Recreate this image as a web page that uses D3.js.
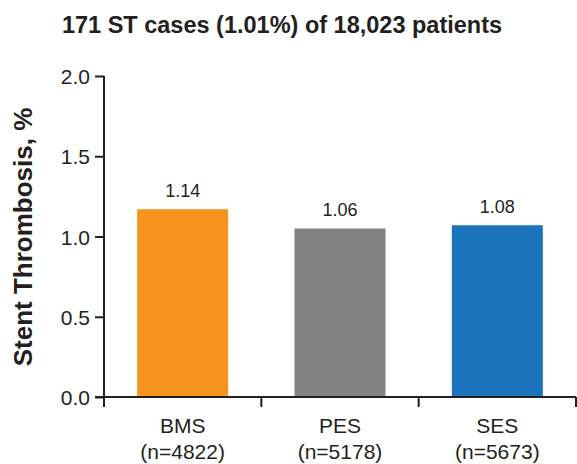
<!DOCTYPE html>
<html><head><meta charset="utf-8">
<script src="https://cdn.jsdelivr.net/npm/d3@7"></script>
<style>
body{margin:0;background:#fff;}
svg text{font-family:"Liberation Sans",Arial,sans-serif;fill:#231f20;}
</style></head>
<body>
<svg id="c" width="577" height="464"></svg>
<script>
const categories = ["BMS","PES","SES"];
const sampleSizes = ["(n=4822)","(n=5178)","(n=5673)"];
const barValues = [1.17, 1.05, 1.07];
const valueLabels = ["1.14","1.06","1.08"];
const colors = ["#F7941E","#838383","#1C75BC"];
const yTicks = [0.0,0.5,1.0,1.5,2.0];
const title = "171 ST cases (1.01%) of 18,023 patients";
const yTitle = "Stent Thrombosis, %";

const svg = d3.select("#c");
const m = {left:104, right:576, top:76, bottom:397};
const xb = d3.scaleBand().domain(categories).range([m.left, m.right]);
const y = d3.scaleLinear().domain([0,2]).range([m.bottom, m.top]);
const ink = "#231f20";

svg.append("text").attr("x",282).attr("y",33).attr("text-anchor","middle")
  .style("font-size","23.5px").style("font-weight","bold").text(title);

svg.selectAll("rect.bar").data(categories).join("rect").attr("class","bar")
  .attr("x", d=>xb(d)+xb.bandwidth()/2-45.5).attr("width",91)
  .attr("y",(d,i)=>y(barValues[i])).attr("height",(d,i)=>y(0)-y(barValues[i]))
  .attr("fill",(d,i)=>colors[i]);

svg.selectAll("text.val").data(categories).join("text").attr("class","val")
  .attr("x", d=>xb(d)+xb.bandwidth()/2).attr("y",(d,i)=>y(barValues[i])-12)
  .attr("text-anchor","middle").style("font-size","18px").text((d,i)=>valueLabels[i]);

// y axis
const ya = svg.append("g").attr("transform",`translate(${m.left},0)`)
  .call(d3.axisLeft(y).tickValues(yTicks).tickFormat(d3.format(".1f")).tickSizeOuter(0).tickSize(9).tickPadding(5));
ya.select(".domain").attr("stroke",ink).attr("stroke-width",2).attr("d",`M0,${m.top}V${m.bottom+9}`);
ya.selectAll(".tick line").attr("stroke",ink).attr("stroke-width",2);
ya.selectAll(".tick text").style("font-size","21px").attr("fill",ink).attr("dy","0.36em");

// x axis
const xa = svg.append("g").attr("transform",`translate(0,${m.bottom})`);
xa.append("line").attr("x1",m.left-9).attr("x2",m.right).attr("stroke",ink).attr("stroke-width",2);
const bounds = categories.map(d=>xb(d)).concat([m.right]);
xa.selectAll("line.t").data(bounds).join("line").attr("class","t")
  .attr("x1",d=>d).attr("x2",d=>d).attr("y1",0).attr("y2",10).attr("stroke",ink).attr("stroke-width",2);
xa.selectAll("text.cat").data(categories).join("text").attr("class","cat")
  .attr("x",d=>xb(d)+xb.bandwidth()/2).attr("y",36).attr("text-anchor","middle")
  .style("font-size","21px").text(d=>d);
xa.selectAll("text.n").data(categories).join("text").attr("class","n")
  .attr("x",d=>xb(d)+xb.bandwidth()/2).attr("y",62).attr("text-anchor","middle")
  .style("font-size","21px").text((d,i)=>sampleSizes[i]);

svg.append("text").attr("transform",`translate(32,237) rotate(-90)`)
  .attr("text-anchor","middle").style("font-size","26px").style("font-weight","bold").text(yTitle);
</script>
</body></html>
